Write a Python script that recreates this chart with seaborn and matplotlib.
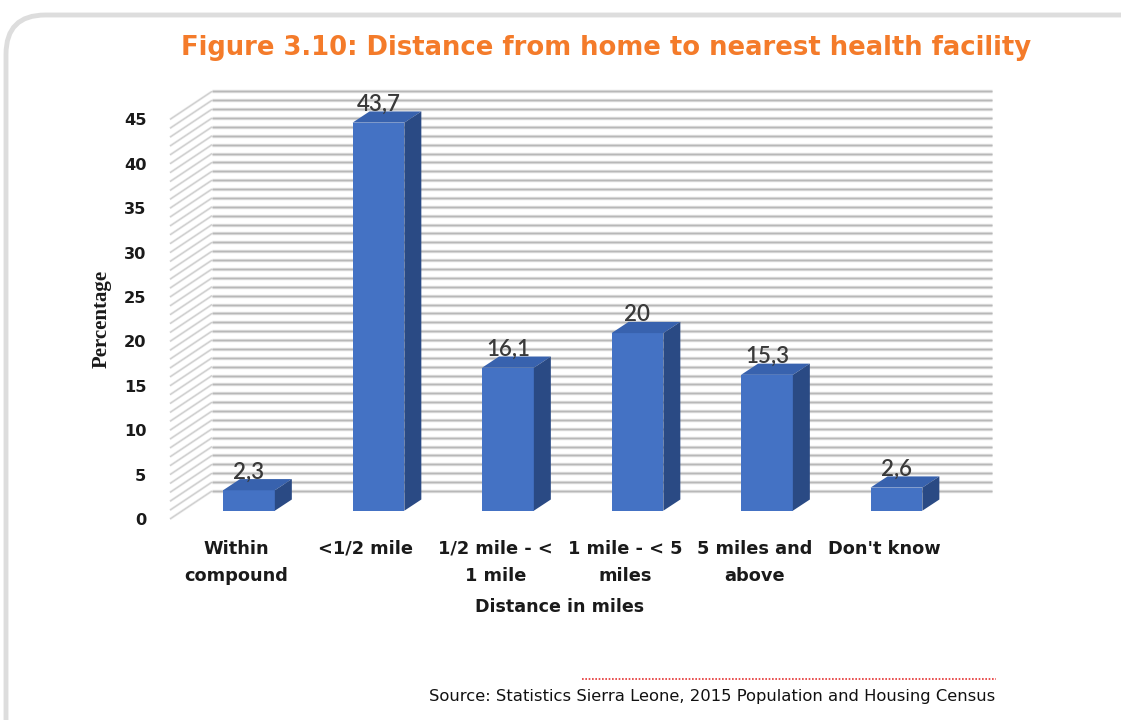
import matplotlib
matplotlib.use("Agg")
import matplotlib.pyplot as plt
from matplotlib.patches import Polygon, FancyBboxPatch
from matplotlib.lines import Line2D
import seaborn as sns

# Data
categories = ["Within\ncompound", "<1/2 mile", "1/2 mile - <\n1 mile",
              "1 mile - < 5\nmiles", "5 miles and\nabove", "Don't know"]
values = [2.3, 43.7, 16.1, 20.0, 15.3, 2.6]
y_ticks = [0, 5, 10, 15, 20, 25, 30, 35, 40, 45]

title = "Figure 3.10: Distance from home to nearest health facility"
source = "Source: Statistics Sierra Leone, 2015 Population and Housing Census"

FRONT = "#4472C4"
TOP = "#3862AE"
SIDE = "#2A4A84"
ORANGE = "#F47B2A"

sns.set_theme(style="white")
plt.rcParams["font.family"] = ["DejaVu Sans"]

W, H = 1121, 720
fig = plt.figure(figsize=(W / 100, H / 100), dpi=100)

# Front plane of the 3-D box, in pixels
left_px, right_px, base_px, top_px = 170, 950, 519, 119.4
ax = fig.add_axes([left_px / W, 1 - base_px / H,
                   (right_px - left_px) / W, (base_px - top_px) / H])
xlim = (-0.513, 5.51)
ylim = (0, 45)

sns.barplot(x=list(range(len(values))), y=values, color=FRONT, width=0.4,
            saturation=1, ax=ax, zorder=4)
ax.set_xlim(*xlim)
ax.set_ylim(*ylim)

sx = (right_px - left_px) / (xlim[1] - xlim[0])   # px per x unit
sy = (base_px - top_px) / (ylim[1] - ylim[0])     # px per y unit

def px2data(dx, dy):
    return dx / sx, dy / sy

fdx, fdy = px2data(12.5, 8.3)    # front face of bars set back from the front plane
bdx, bdy = px2data(17, 11.2)     # bar depth
wdx, wdy = px2data(42, 28)       # back wall depth

# Back wall gridlines and side wall diagonals
for v in range(0, 46):
    yb = v + wdy
    for lw, col, scol in [(2.4, "#dadada", "#e6e6e6"), (0.9, "#b8b8b8", "#cacaca")]:
        ax.add_line(Line2D([xlim[0] + wdx, xlim[1] + wdx], [yb, yb], lw=lw,
                           color=col, zorder=1, clip_on=False,
                           solid_capstyle="butt"))
        ax.add_line(Line2D([xlim[0], xlim[0] + wdx], [v, yb], lw=lw * 0.7,
                           color=scol, zorder=1, clip_on=False,
                           solid_capstyle="butt"))

# 3-D faces of the bars
for p, v in zip(ax.patches, values):
    x0 = p.get_x() + fdx
    x1 = x0 + p.get_width()
    y0 = fdy
    y1 = p.get_height() + fdy
    p.set_x(x0)
    p.set_y(y0)
    p.set_edgecolor("none")
    p.set_clip_on(False)
    ax.add_patch(Polygon([(x0, y1), (x1, y1), (x1 + bdx, y1 + bdy), (x0 + bdx, y1 + bdy)],
                         closed=True, facecolor=TOP, edgecolor="none", zorder=4, clip_on=False))
    ax.add_patch(Polygon([(x1, y0), (x1, y1), (x1 + bdx, y1 + bdy), (x1 + bdx, y0 + bdy)],
                         closed=True, facecolor=SIDE, edgecolor="none", zorder=4, clip_on=False))
    lab = f"{v:g}".replace(".", ",")
    ax.text(x0 + p.get_width() / 2, y1 + bdy - 0.4, lab, ha="center", va="bottom",
            fontsize=16, color="#3a3a3a", family="Lato", fontweight="semibold",
            zorder=6, clip_on=False)

for s in ax.spines.values():
    s.set_visible(False)
ax.set_facecolor("none")
ax.tick_params(length=0)
ax.set_yticks(y_ticks)
ax.set_yticklabels([str(t) for t in y_ticks], fontsize=11.7, fontweight="bold",
                   color="#1a1a1a")
ax.tick_params(axis="y", pad=17)
ax.set_xticks(range(len(categories)))
ax.set_xticklabels(categories, fontsize=12.8, fontweight="bold", color="#1a1a1a",
                   linespacing=1.62)
ax.tick_params(axis="x", pad=15)
ax.set_xlabel("Distance in miles", fontsize=12.6, fontweight="bold",
              color="#1a1a1a", labelpad=10)
ax.set_ylabel("Percentage", fontsize=15, fontweight="bold", color="#1a1a1a",
              family="Liberation Serif", labelpad=9)

# Title
fig.text(606 / W, 1 - 48 / H, title, ha="center", va="center", fontsize=18.6,
         fontweight="bold", color=ORANGE)

# Source note with red dotted rule
fig.add_artist(Line2D([582 / W, 996 / W], [1 - 679 / H, 1 - 679 / H],
                      color="#e53030", lw=1.2, ls=(0, (1, 1))))
fig.text(995 / W, 1 - 697 / H, source, ha="right", va="center", fontsize=11.8,
         color="#111111")

# Rounded frame
frame = FancyBboxPatch((6 / W, -0.1), 1.2, 1 - 15 / H + 0.1,
                       boxstyle="round,pad=0,rounding_size=0.035",
                       transform=fig.transFigure, facecolor="none",
                       edgecolor="#dddddd", lw=3.5, mutation_aspect=W / H)
fig.add_artist(frame)

fig.savefig("out.png", dpi=100)
